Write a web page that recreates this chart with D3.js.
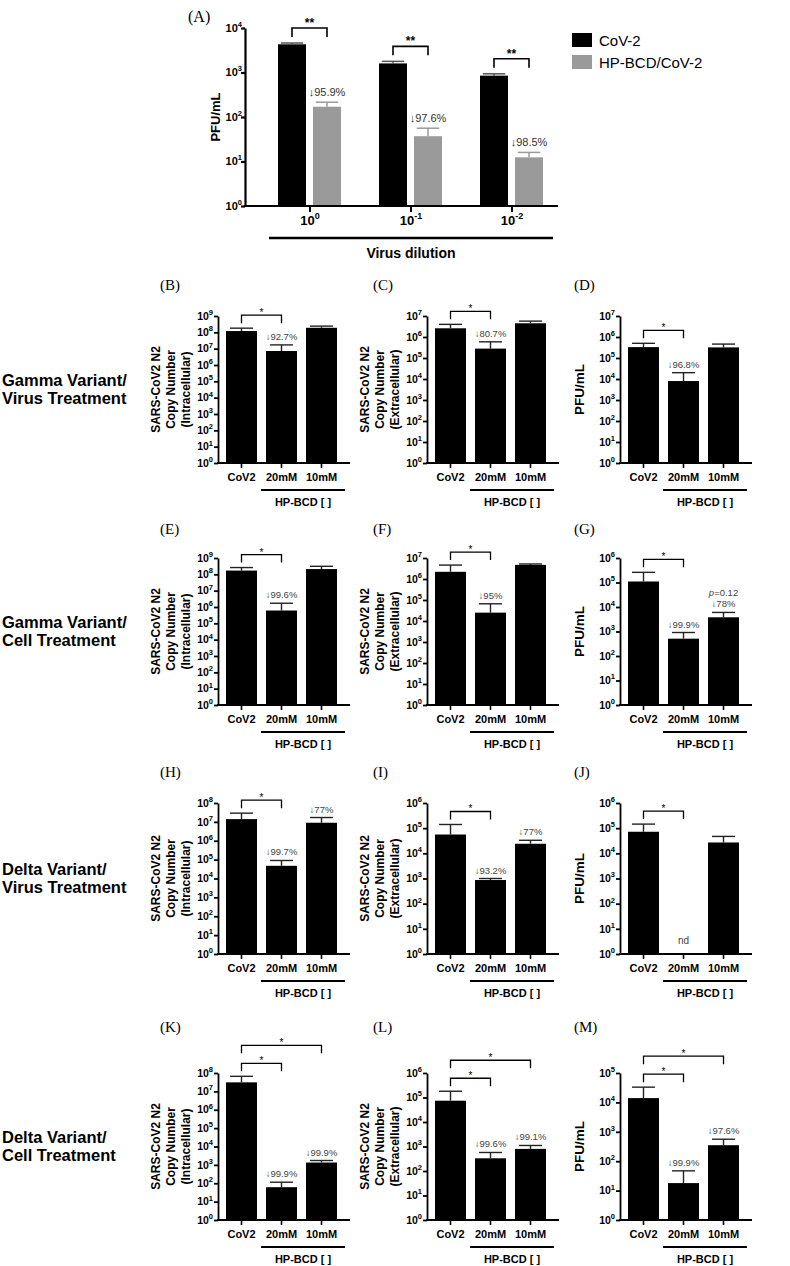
<!DOCTYPE html>
<html>
<head>
<meta charset="utf-8">
<script src="https://cdn.jsdelivr.net/npm/d3@7"></script>
<style>
  body { margin: 0; background: #fff; }
  svg { display: block; }
</style>
</head>
<body>
<div id="viz"></div>
<script>
// HP-BCD figure: panel A (dilution series) + 12 small log bar panels

// ---- data ----
const dilutionExp = [0, -1, -2];
const seriesA = ["CoV-2", "HP-BCD/CoV-2"];
const cov2A = [4300, 1600, 850];
const cov2AErr = [4600, 1780, 935];
const hpA = [170, 37, 12.4];
const hpAErr = [215, 56, 16];
const dropA = ["↓95.9%", "↓97.6%", "↓98.5%"];

const conditions = ["CoV2", "20mM", "10mM"];
const groupLabel = "HP-BCD [ ]";
const rowLabels = [
  ["Gamma Variant/", "Virus Treatment"],
  ["Gamma Variant/", "Cell Treatment"],
  ["Delta Variant/", "Virus Treatment"],
  ["Delta Variant/", "Cell Treatment"]
];
const labelIntra = ["SARS-CoV2 N2", "Copy Number", "(Intracellular)"];
const labelExtra = ["SARS-CoV2 N2", "Copy Number", "(Extracellular)"];
const labelPfu = ["PFU/mL"];

// mean and top of error bar, per condition
const meanB = [1.2e8, 7.2e6, 1.9e8], errB = [1.8e8, 1.7e7, 2.4e8], noteB = [null, "↓92.7%", null];
const meanC = [2.6e6, 2.8e5, 4.5e6], errC = [4.0e6, 5.9e5, 5.7e6], noteC = [null, "↓80.7%", null];
const meanD = [3.3e5, 8.0e3, 3.2e5], errD = [5.0e5, 2.0e4, 4.6e5], noteD = [null, "↓96.8%", null];
const meanE = [1.7e8, 6.1e5, 2.1e8], errE = [2.6e8, 1.7e6, 3.1e8], noteE = [null, "↓99.6%", null];
const meanF = [2.2e6, 2.5e4, 4.7e6], errF = [4.6e6, 6.6e4, 5.2e6], noteF = [null, "↓95%", null];
const meanG = [1.1e5, 510, 3800], errG = [2.6e5, 910, 6000], noteG = [null, "↓99.9%", "↓78%"];
const meanH = [1.4e7, 4.7e4, 9.0e6], errH = [2.9e7, 9.0e4, 1.7e7], noteH = [null, "↓99.7%", "↓77%"];
const meanI = [5.6e4, 870, 2.4e4], errI = [1.4e5, 1000, 3.3e4], noteI = [null, "↓93.2%", "↓77%"];
const meanJ = [7.2e4, null, 2.7e4], errJ = [1.45e5, null, 4.7e4], noteJ = [null, "nd", null];
const meanK = [3.1e7, 61, 1340], errK = [6.6e7, 114, 1730], noteK = [null, "↓99.9%", "↓99.9%"];
const meanL = [7.4e4, 330, 800], errL = [1.8e5, 570, 1100], noteL = [null, "↓99.6%", "↓99.1%"];
const meanM = [1.4e4, 18, 350], errM = [3.3e4, 47, 560], noteM = [null, "↓99.9%", "↓97.6%"];

const topExp = { B: 9, C: 7, D: 7, E: 9, F: 7, G: 6, H: 8, I: 6, J: 6, K: 8, L: 6, M: 5 };

// ---- layout ----
const W = 790, H = 1266;
const FONT = "Arial, 'Liberation Sans', Helvetica, sans-serif";
const SERIF = "'Liberation Serif', 'Times New Roman', serif";
const colX = [218, 427, 620];
const rowY = [[316, 463], [558, 705], [803, 954], [1073, 1220]];
const letterY = [290, 534, 777, 1032];
const letterX = [160, 373, 574];

const svg = d3.select("#viz").append("svg")
  .attr("width", W).attr("height", H)
  .style("background", "#fff")
  .attr("font-family", FONT);

function powerLabel(t, exp, base, sup) {
  t.text(null);
  t.append("tspan").attr("font-size", base).text("10");
  t.append("tspan").attr("font-size", sup).attr("dy", -base * 0.45).text(exp);
}

// ---------------- Panel A ----------------
const aX0 = 245, aYt = 28, aYb = 206;
const yA = d3.scaleLog().domain([1, 1e4]).range([aYb, aYt]);
const xA = d3.scaleBand().domain(dilutionExp).range([259.5, 562.5]);
const xA1 = d3.scaleBand().domain(seriesA).range([18.5, 81.5]).paddingInner(0.2);
const colorA = d3.scaleOrdinal().domain(seriesA).range(["#000", "#9a9a9a"]);
const errColorA = d3.scaleOrdinal().domain(seriesA).range(["#555", "#9a9a9a"]);

const gA = svg.append("g");
svg.append("text").attr("x", 188).attr("y", 22).attr("font-family", SERIF)
  .attr("font-size", 16).text("(A)");

const barsA = dilutionExp.flatMap((e, i) => [
  { e, s: seriesA[0], v: cov2A[i], err: cov2AErr[i] },
  { e, s: seriesA[1], v: hpA[i], err: hpAErr[i], note: dropA[i] }
]);

barsA.forEach(d => {
  const x0 = xA(d.e) + xA1(d.s), bw = xA1.bandwidth(), cx = x0 + bw / 2;
  gA.append("rect").attr("x", x0).attr("y", yA(d.v)).attr("width", bw)
    .attr("height", aYb - yA(d.v)).attr("fill", colorA(d.s));
  gA.append("line").attr("x1", cx).attr("x2", cx).attr("y1", yA(d.v)).attr("y2", yA(d.err))
    .attr("stroke", errColorA(d.s)).attr("stroke-width", 1.5);
  gA.append("line").attr("x1", cx - bw * 0.4).attr("x2", cx + bw * 0.4)
    .attr("y1", yA(d.err)).attr("y2", yA(d.err))
    .attr("stroke", errColorA(d.s)).attr("stroke-width", 1.5);
  if (d.note) {
    gA.append("text").attr("x", cx).attr("y", yA(d.err) - 6).attr("text-anchor", "middle")
      .attr("font-size", 11).attr("fill", "#333").text(d.note);
  }
});

// significance brackets A
dilutionExp.forEach((e, i) => {
  const xa = xA(e) + xA1(seriesA[0]) + xA1.bandwidth() / 2;
  const xb = xA(e) + xA1(seriesA[1]) + xA1.bandwidth() / 2;
  const by = yA(cov2AErr[i]) - 15;
  gA.append("path").attr("d", `M${xa},${by + 9}V${by}H${xb}V${by + 9}`)
    .attr("fill", "none").attr("stroke", "#000").attr("stroke-width", 1.6);
  gA.append("text").attr("x", (xa + xb) / 2).attr("y", by - 1).attr("text-anchor", "middle")
    .attr("font-size", 12).attr("font-weight", "bold").text("**");
});

const yAxisA = d3.axisLeft(yA).tickValues([1, 10, 100, 1000, 10000]).tickSize(4)
  .tickSizeOuter(0).tickFormat(() => "");
const gyA = gA.append("g").attr("transform", `translate(${aX0},0)`).call(yAxisA);
gyA.selectAll("path, line").attr("stroke-width", 2.2);
gyA.selectAll(".tick text").attr("font-weight", "bold").attr("font-family", FONT).attr("x", -3)
  .each(function (d) { powerLabel(d3.select(this), Math.round(Math.log10(d)), 11, 7.5); });

gA.append("line").attr("x1", aX0 - 1).attr("x2", 558).attr("y1", aYb).attr("y2", aYb)
  .attr("stroke", "#000").attr("stroke-width", 2.2);
const xAxisA = d3.axisBottom(xA).tickSize(6).tickSizeOuter(0).tickFormat(() => "");
const gxA = gA.append("g").attr("transform", `translate(0,${aYb})`).call(xAxisA);
gxA.select(".domain").remove();
gxA.selectAll("line").attr("stroke-width", 2);
gxA.selectAll(".tick").attr("transform", d => `translate(${xA(d) + 50.5},0)`);
gxA.selectAll(".tick text").attr("font-weight", "bold").attr("font-family", FONT).attr("y", 12)
  .each(function (d) { powerLabel(d3.select(this), d, 13, 9); });

gA.append("line").attr("x1", 269).attr("x2", 553).attr("y1", 238).attr("y2", 238)
  .attr("stroke", "#000").attr("stroke-width", 2.5);
gA.append("text").attr("x", 411).attr("y", 258).attr("text-anchor", "middle")
  .attr("font-size", 14).attr("font-weight", "bold").text("Virus dilution");
gA.append("text").attr("transform", `translate(220,${(aYt + aYb) / 2}) rotate(-90)`)
  .attr("text-anchor", "middle").attr("font-size", 13).attr("font-weight", "bold").text("PFU/mL");

// legend
const legend = gA.append("g");
seriesA.forEach((s, i) => {
  legend.append("rect").attr("x", 572).attr("y", 33 + i * 22).attr("width", 20).attr("height", 14)
    .attr("fill", colorA(s));
  legend.append("text").attr("x", 599).attr("y", 45.5 + i * 22).attr("font-size", 15).text(s);
});

// ---------------- small panels ----------------
const panels = [
  { id: "B", row: 0, col: 0, mean: meanB, err: errB, note: noteB, label: labelIntra, brackets: [[0, 1]] },
  { id: "C", row: 0, col: 1, mean: meanC, err: errC, note: noteC, label: labelExtra, brackets: [[0, 1]] },
  { id: "D", row: 0, col: 2, mean: meanD, err: errD, note: noteD, label: labelPfu, brackets: [[0, 1]] },
  { id: "E", row: 1, col: 0, mean: meanE, err: errE, note: noteE, label: labelIntra, brackets: [[0, 1]] },
  { id: "F", row: 1, col: 1, mean: meanF, err: errF, note: noteF, label: labelExtra, brackets: [[0, 1]] },
  { id: "G", row: 1, col: 2, mean: meanG, err: errG, note: noteG, label: labelPfu, brackets: [[0, 1]], pval: "0.12" },
  { id: "H", row: 2, col: 0, mean: meanH, err: errH, note: noteH, label: labelIntra, brackets: [[0, 1]] },
  { id: "I", row: 2, col: 1, mean: meanI, err: errI, note: noteI, label: labelExtra, brackets: [[0, 1]] },
  { id: "J", row: 2, col: 2, mean: meanJ, err: errJ, note: noteJ, label: labelPfu, brackets: [[0, 1]] },
  { id: "K", row: 3, col: 0, mean: meanK, err: errK, note: noteK, label: labelIntra, brackets: [[0, 1], [0, 2]] },
  { id: "L", row: 3, col: 1, mean: meanL, err: errL, note: noteL, label: labelExtra, brackets: [[0, 1], [0, 2]] },
  { id: "M", row: 3, col: 2, mean: meanM, err: errM, note: noteM, label: labelPfu, brackets: [[0, 1], [0, 2]] }
];

panels.forEach(p => {
  const ax = colX[p.col], [yt, yb] = rowY[p.row];
  const top = topExp[p.id];
  const y = d3.scaleLog().domain([1, 10 ** top]).range([yb, yt]);
  const x = d3.scaleBand().domain(conditions).range([ax + 8, ax + 119]).paddingInner(0.225);
  const bw = x.bandwidth();
  const cx = c => x(c) + bw / 2;
  const g = svg.append("g");

  svg.append("text").attr("x", letterX[p.col]).attr("y", letterY[p.row])
    .attr("font-family", SERIF).attr("font-size", 15).text(`(${p.id})`);

  // bars + error bars
  conditions.forEach((c, i) => {
    const v = p.mean[i];
    if (v == null) return;
    g.append("rect").attr("x", x(c)).attr("y", y(v)).attr("width", bw)
      .attr("height", yb - y(v)).attr("fill", "#000");
    const e = p.err[i];
    g.append("line").attr("x1", cx(c)).attr("x2", cx(c)).attr("y1", y(v)).attr("y2", y(e))
      .attr("stroke", "#222").attr("stroke-width", 1.4);
    g.append("line").attr("x1", cx(c) - bw * 0.37).attr("x2", cx(c) + bw * 0.37)
      .attr("y1", y(e)).attr("y2", y(e)).attr("stroke", "#222").attr("stroke-width", 1.4);
  });

  // notes above bars
  conditions.forEach((c, i) => {
    const n = p.note[i];
    if (!n) return;
    if (p.mean[i] == null) {
      g.append("text").attr("x", cx(c)).attr("y", yb - 10).attr("text-anchor", "middle")
        .attr("font-size", 10).attr("fill", "#444").text(n);
      return;
    }
    const ny = y(p.err[i]) - 5;
    g.append("text").attr("x", cx(c)).attr("y", ny).attr("text-anchor", "middle")
      .attr("font-size", 9.5).attr("fill", "#444").text(n);
    if (p.pval && i === 2) {
      const t = g.append("text").attr("x", cx(c)).attr("y", ny - 11).attr("text-anchor", "middle")
        .attr("font-size", 9.5).attr("fill", "#444");
      t.append("tspan").attr("font-style", "italic").text("p");
      t.append("tspan").text("=" + p.pval);
    }
  });

  // significance brackets
  p.brackets.forEach(([a, b], k) => {
    const by = y(p.err[0]) - 13 - 18 * k;
    const xa = cx(conditions[a]), xb = cx(conditions[b]);
    g.append("path").attr("d", `M${xa},${by + 8}V${by}H${xb}V${by + 8}`)
      .attr("fill", "none").attr("stroke", "#000").attr("stroke-width", 1.3);
    g.append("text").attr("x", (xa + xb) / 2).attr("y", by + 1).attr("text-anchor", "middle")
      .attr("font-size", 10).text("*");
  });

  // y axis
  const yAxis = d3.axisLeft(y).tickValues(d3.range(0, top + 1).map(e => 10 ** e))
    .tickSize(4).tickSizeOuter(0).tickFormat(() => "");
  const gy = g.append("g").attr("transform", `translate(${ax},0)`).call(yAxis);
  gy.selectAll("path, line").attr("stroke-width", 1.8);
  gy.selectAll(".tick text").attr("font-weight", "bold").attr("font-family", FONT).attr("x", -5)
    .each(function (d) { powerLabel(d3.select(this), Math.round(Math.log10(d)), 10.5, 7.5); });

  // x axis
  g.append("line").attr("x1", ax - 1).attr("x2", ax + 132).attr("y1", yb).attr("y2", yb)
    .attr("stroke", "#000").attr("stroke-width", 1.8);
  const gx = g.append("g").attr("transform", `translate(0,${yb})`)
    .call(d3.axisBottom(x).tickSize(5).tickSizeOuter(0));
  gx.select(".domain").remove();
  gx.selectAll("line").attr("stroke-width", 1.6);
  gx.selectAll(".tick text").attr("font-weight", "bold").attr("font-family", FONT)
    .attr("font-size", 11).attr("y", 10);

  // HP-BCD grouping line
  const lx0 = x("20mM") - 5, lx1 = ax + 127;
  g.append("line").attr("x1", lx0).attr("x2", lx1).attr("y1", yb + 27).attr("y2", yb + 27)
    .attr("stroke", "#000").attr("stroke-width", 2);
  g.append("text").attr("x", (lx0 + lx1) / 2).attr("y", yb + 43).attr("text-anchor", "middle")
    .attr("font-size", 11).attr("font-weight", "bold").text(groupLabel);

  // y label
  const ymid = (yt + yb) / 2;
  if (p.label.length === 1) {
    g.append("text").attr("transform", `translate(${ax - 36},${ymid}) rotate(-90)`)
      .attr("text-anchor", "middle").attr("font-size", 13.5).attr("font-weight", "bold")
      .text(p.label[0]);
  } else {
    p.label.forEach((l, k) => {
      g.append("text").attr("transform", `translate(${ax - 58 + 15 * k},${ymid}) rotate(-90)`)
        .attr("text-anchor", "middle").attr("font-size", 12).attr("font-weight", "bold").text(l);
    });
  }
});

// row labels on the left
rowLabels.forEach((lines, r) => {
  const mid = (rowY[r][0] + rowY[r][1]) / 2;
  lines.forEach((l, k) => {
    svg.append("text").attr("x", 2).attr("y", mid - 3.5 + 18 * k)
      .attr("font-size", 16.5).attr("font-weight", "bold").text(l);
  });
});
</script>
</body>
</html>
